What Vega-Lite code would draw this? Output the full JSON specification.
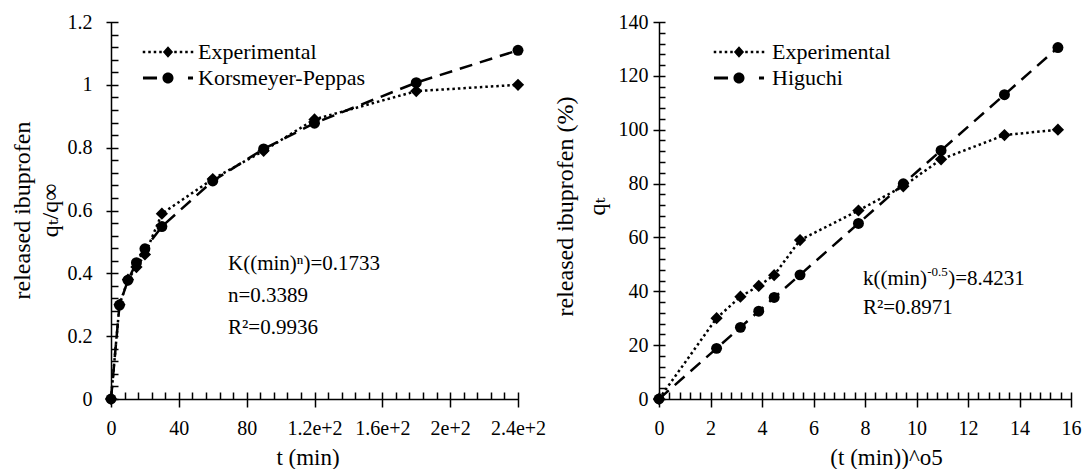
{
  "$schema": "https://vega.github.io/schema/vega-lite/v6.json",
  "background": "white",
  "autosize": {"type": "pad"},
  "padding": {"left": 10, "top": 12, "right": 5, "bottom": 0},
  "config": {
    "view": {"stroke": null, "fill": null},
    "font": "Liberation Serif",
    "axis": {"zindex": 1, "grid": false, "tickColor": "black", "domainColor": "black", "labelColor": "black", "titleColor": "black", "tickWidth": 1.5, "domainWidth": 1.5, "labelFont": "Liberation Serif", "titleFont": "Liberation Serif, DejaVu Serif", "labelFontSize": 20, "titleFontSize": 23, "titleFontWeight": "normal", "labelFlush": false, "labelOverlap": false}
  },
  "bounds": "flush",
  "spacing": 141,
  "resolve": {"scale": {"shape": "independent"}, "legend": {"shape": "independent"}},
  "hconcat": [
    {
      "width": 407,
      "height": 377,
      "resolve": {"axis": {"x": "independent", "y": "independent"}},
      "layer": [
        {
          "data": {"values": [
            {"series": "Experimental", "t": 0, "q": 0},
            {"series": "Experimental", "t": 5, "q": 0.30},
            {"series": "Experimental", "t": 10, "q": 0.38},
            {"series": "Experimental", "t": 15, "q": 0.42},
            {"series": "Experimental", "t": 20, "q": 0.46},
            {"series": "Experimental", "t": 30, "q": 0.59},
            {"series": "Experimental", "t": 60, "q": 0.70},
            {"series": "Experimental", "t": 90, "q": 0.79},
            {"series": "Experimental", "t": 120, "q": 0.89},
            {"series": "Experimental", "t": 180, "q": 0.98},
            {"series": "Experimental", "t": 240, "q": 1.00},
            {"series": "Korsmeyer-Peppas", "t": 0, "q": 0},
            {"series": "Korsmeyer-Peppas", "t": 5, "q": 0.299},
            {"series": "Korsmeyer-Peppas", "t": 10, "q": 0.378},
            {"series": "Korsmeyer-Peppas", "t": 15, "q": 0.434},
            {"series": "Korsmeyer-Peppas", "t": 20, "q": 0.478},
            {"series": "Korsmeyer-Peppas", "t": 30, "q": 0.549},
            {"series": "Korsmeyer-Peppas", "t": 60, "q": 0.694},
            {"series": "Korsmeyer-Peppas", "t": 90, "q": 0.796},
            {"series": "Korsmeyer-Peppas", "t": 120, "q": 0.878},
            {"series": "Korsmeyer-Peppas", "t": 180, "q": 1.007},
            {"series": "Korsmeyer-Peppas", "t": 240, "q": 1.110}
          ]},
          "resolve": {"axis": {"x": "independent", "y": "independent"}},
          "layer": [
            {
              "mark": {"type": "line", "color": "black", "strokeWidth": 2.5},
              "encoding": {
                "x": {"field": "t", "type": "quantitative", "scale": {"domain": [0, 240], "nice": false},
                  "axis": {"orient": "bottom", "values": [0, 8, 16, 24, 32, 40, 48, 56, 64, 72, 80, 88, 96, 104, 112, 120, 128, 136, 144, 152, 160, 168, 176, 184, 192, 200, 208, 216, 224, 232, 240],
                    "tickSize": {"condition": {"test": "datum.value % 40 === 0", "value": 15}, "value": 7},
                    "labelExpr": "datum.value % 40 === 0 ? datum.label : ''",
                    "format": "~g", "offset": -7, "domain": false, "labelPadding": 11, "title": null}},
                "y": {"field": "q", "type": "quantitative", "scale": {"domain": [0, 1.2], "nice": false},
                  "axis": {"orient": "left", "values": [0, 0.04, 0.08, 0.12, 0.16, 0.2, 0.24, 0.28, 0.32, 0.36, 0.4, 0.44, 0.48, 0.52, 0.56, 0.6, 0.64, 0.68, 0.72, 0.76, 0.8, 0.84, 0.88, 0.92, 0.96, 1, 1.04, 1.08, 1.12, 1.16, 1.2],
                    "tickSize": {"condition": {"test": "abs(datum.value * 5 - round(datum.value * 5)) < 0.001", "value": 12}, "value": 7},
                    "labelExpr": "abs(datum.value * 5 - round(datum.value * 5)) < 0.001 ? datum.label : ''",
                    "format": "~g", "offset": -7, "domain": false, "labelPadding": 14, "title": null}},
                "detail": {"field": "series", "type": "nominal"},
                "strokeDash": {"condition": {"test": "datum.series === 'Experimental'", "value": [2.5, 3]}, "value": [13, 8]}
              }
            },
            {
              "mark": {"type": "point", "filled": true, "color": "black", "opacity": 1},
              "encoding": {
                "x": {"field": "t", "type": "quantitative",
                  "axis": {"orient": "bottom", "ticks": false, "labels": false, "domain": true, "title": null}},
                "y": {"field": "q", "type": "quantitative",
                  "axis": {"orient": "left", "ticks": false, "labels": false, "domain": true, "title": null}},
                "size": {"condition": {"test": "datum.series === 'Experimental'", "value": 150}, "value": 120},
                "shape": {"condition": {"test": "datum.series === 'Experimental'", "value": "diamond"}, "value": "circle"}
              }
            },
            {
              "transform": [{"filter": "datum.q < 0"}],
              "mark": {"type": "point", "filled": true, "color": "black", "strokeWidth": 0, "size": 144},
              "encoding": {
                "x": {"field": "t", "type": "quantitative", "axis": null},
                "y": {"field": "q", "type": "quantitative", "axis": null},
                "shape": {"field": "series", "type": "nominal",
                  "scale": {"domain": ["Experimental", "Korsmeyer-Peppas"], "range": [
                    "M-4.21,-0.21H-3.79V0.21H-4.21Z M-3.29,-0.21H-2.87V0.21H-3.29Z M-2.38,-0.21H-1.96V0.21H-2.38Z M-1.46,-0.21H-1.04V0.21H-1.46Z M1.04,-0.21H1.46V0.21H1.04Z M1.96,-0.21H2.38V0.21H1.96Z M2.87,-0.21H3.29V0.21H2.87Z M3.79,-0.21H4.21V0.21H3.79Z M0,-0.95L0.85,0L0,0.95L-0.85,0Z",
                    "M-4.17,-0.25H-1.83V0.25H-4.17Z M3.33,-0.25H4.17V0.25H3.33Z M0.92,0A0.92,0.92,0,1,1,-0.92,0A0.92,0.92,0,1,1,0.92,0Z"]},
                  "legend": {"orient": "none", "legendX": 46, "legendY": 19, "title": null, "padding": 0, "symbolSize": 144, "symbolStrokeWidth": 0, "symbolFillColor": "black", "symbolOpacity": 1, "rowPadding": 4, "labelOffset": 19, "labelFont": "Liberation Serif", "labelFontSize": 22, "labelColor": "black", "labelLimit": 400}}
              }
            }
          ]
        },
        {
          "data": {"values": [
            {"t": 69, "q": 0.43, "label": "K((min)ⁿ)=0.1733"},
            {"t": 69, "q": 0.328, "label": "n=0.3389"},
            {"t": 69, "q": 0.225, "label": "R²=0.9936"}
          ]},
          "mark": {"type": "text", "align": "left", "baseline": "middle", "font": "Liberation Serif, DejaVu Serif", "fontSize": 21, "color": "black"},
          "encoding": {
            "x": {"field": "t", "type": "quantitative",
              "axis": {"orient": "bottom", "ticks": false, "labels": false, "domain": false, "title": "t (min)", "titleX": 196.5, "titleY": 58, "titleBaseline": "middle", "titleAlign": "center"}},
            "y": {"field": "q", "type": "quantitative",
              "axis": {"orient": "left", "ticks": false, "labels": false, "domain": false, "title": ["released ibuprofen", "qₜ/q∞"], "titleFontSize": 24, "titleX": -89, "titleY": 188, "titleBaseline": "middle", "titleAlign": "center", "titleAngle": -90, "titleLineHeight": 28}},
            "text": {"field": "label"}
          }
        }
      ]
    },
    {
      "width": 412,
      "height": 377,
      "resolve": {"axis": {"x": "independent", "y": "independent"}},
      "layer": [
        {
          "data": {"values": [
            {"series": "Experimental", "s": 0, "q": 0},
            {"series": "Experimental", "s": 2.236, "q": 30},
            {"series": "Experimental", "s": 3.162, "q": 38},
            {"series": "Experimental", "s": 3.873, "q": 42},
            {"series": "Experimental", "s": 4.472, "q": 46},
            {"series": "Experimental", "s": 5.477, "q": 59},
            {"series": "Experimental", "s": 7.746, "q": 70},
            {"series": "Experimental", "s": 9.487, "q": 79},
            {"series": "Experimental", "s": 10.954, "q": 89},
            {"series": "Experimental", "s": 13.416, "q": 98},
            {"series": "Experimental", "s": 15.492, "q": 100},
            {"series": "Higuchi", "s": 0, "q": 0},
            {"series": "Higuchi", "s": 2.236, "q": 18.8},
            {"series": "Higuchi", "s": 3.162, "q": 26.6},
            {"series": "Higuchi", "s": 3.873, "q": 32.6},
            {"series": "Higuchi", "s": 4.472, "q": 37.7},
            {"series": "Higuchi", "s": 5.477, "q": 46.1},
            {"series": "Higuchi", "s": 7.746, "q": 65.2},
            {"series": "Higuchi", "s": 9.487, "q": 79.9},
            {"series": "Higuchi", "s": 10.954, "q": 92.3},
            {"series": "Higuchi", "s": 13.416, "q": 113.0},
            {"series": "Higuchi", "s": 15.492, "q": 130.5}
          ]},
          "resolve": {"axis": {"x": "independent", "y": "independent"}},
          "layer": [
            {
              "mark": {"type": "line", "color": "black", "strokeWidth": 2.5},
              "encoding": {
                "x": {"field": "s", "type": "quantitative", "scale": {"domain": [0, 16], "nice": false},
                  "axis": {"orient": "bottom", "values": [0, 0.4, 0.8, 1.2, 1.6, 2, 2.4, 2.8, 3.2, 3.6, 4, 4.4, 4.8, 5.2, 5.6, 6, 6.4, 6.8, 7.2, 7.6, 8, 8.4, 8.8, 9.2, 9.6, 10, 10.4, 10.8, 11.2, 11.6, 12, 12.4, 12.8, 13.2, 13.6, 14, 14.4, 14.8, 15.2, 15.6, 16],
                    "tickSize": {"condition": {"test": "datum.value % 2 === 0", "value": 15}, "value": 7},
                    "labelExpr": "datum.value % 2 === 0 ? datum.label : ''",
                    "format": "~g", "offset": -7, "domain": false, "labelPadding": 11, "title": null}},
                "y": {"field": "q", "type": "quantitative", "scale": {"domain": [0, 140], "nice": false},
                  "axis": {"orient": "left", "values": [0, 4, 8, 12, 16, 20, 24, 28, 32, 36, 40, 44, 48, 52, 56, 60, 64, 68, 72, 76, 80, 84, 88, 92, 96, 100, 104, 108, 112, 116, 120, 124, 128, 132, 136, 140],
                    "tickSize": {"condition": {"test": "datum.value % 20 === 0", "value": 12}, "value": 6},
                    "labelExpr": "datum.value % 20 === 0 ? datum.label : ''",
                    "format": "~g", "offset": -6, "domain": false, "labelPadding": 5, "title": null}},
                "detail": {"field": "series", "type": "nominal"},
                "strokeDash": {"condition": {"test": "datum.series === 'Experimental'", "value": [2.5, 3]}, "value": [13, 8]}
              }
            },
            {
              "mark": {"type": "point", "filled": true, "color": "black", "opacity": 1},
              "encoding": {
                "x": {"field": "s", "type": "quantitative",
                  "axis": {"orient": "bottom", "ticks": false, "labels": false, "domain": true, "title": null}},
                "y": {"field": "q", "type": "quantitative",
                  "axis": {"orient": "left", "ticks": false, "labels": false, "domain": true, "title": null}},
                "size": {"condition": {"test": "datum.series === 'Experimental'", "value": 150}, "value": 120},
                "shape": {"condition": {"test": "datum.series === 'Experimental'", "value": "diamond"}, "value": "circle"}
              }
            },
            {
              "transform": [{"filter": "datum.q < 0"}],
              "mark": {"type": "point", "filled": true, "color": "black", "strokeWidth": 0, "size": 144},
              "encoding": {
                "x": {"field": "s", "type": "quantitative", "axis": null},
                "y": {"field": "q", "type": "quantitative", "axis": null},
                "shape": {"field": "series", "type": "nominal",
                  "scale": {"domain": ["Experimental", "Higuchi"], "range": [
                    "M-4.21,-0.21H-3.79V0.21H-4.21Z M-3.29,-0.21H-2.87V0.21H-3.29Z M-2.38,-0.21H-1.96V0.21H-2.38Z M-1.46,-0.21H-1.04V0.21H-1.46Z M1.04,-0.21H1.46V0.21H1.04Z M1.96,-0.21H2.38V0.21H1.96Z M2.87,-0.21H3.29V0.21H2.87Z M3.79,-0.21H4.21V0.21H3.79Z M0,-0.95L0.85,0L0,0.95L-0.85,0Z",
                    "M-4.17,-0.25H-1.83V0.25H-4.17Z M3.33,-0.25H4.17V0.25H3.33Z M0.92,0A0.92,0.92,0,1,1,-0.92,0A0.92,0.92,0,1,1,0.92,0Z"]},
                  "legend": {"orient": "none", "legendX": 69, "legendY": 19, "title": null, "padding": 0, "symbolSize": 144, "symbolStrokeWidth": 0, "symbolFillColor": "black", "symbolOpacity": 1, "rowPadding": 4, "labelOffset": 22, "labelFont": "Liberation Serif", "labelFontSize": 22, "labelColor": "black", "labelLimit": 400}}
              }
            }
          ]
        },
        {
          "data": {"values": [
            {"s": 7.92, "q": 44.6, "label": "k((min)"},
            {"s": 11.232, "q": 44.6, "label": ")=8.4231"},
            {"s": 7.92, "q": 33.8, "label": "R²=0.8971"}
          ]},
          "mark": {"type": "text", "align": "left", "baseline": "middle", "font": "Liberation Serif, DejaVu Serif", "fontSize": 21, "color": "black"},
          "encoding": {
            "x": {"field": "s", "type": "quantitative",
              "axis": {"orient": "bottom", "ticks": false, "labels": false, "domain": false, "title": "(t (min))^o5", "titleX": 227, "titleY": 58, "titleBaseline": "middle", "titleAlign": "center"}},
            "y": {"field": "q", "type": "quantitative",
              "axis": {"orient": "left", "ticks": false, "labels": false, "domain": false, "title": ["released ibuprofen (%)", "qₜ"], "titleFontSize": 24, "titleX": -94, "titleY": 184, "titleBaseline": "middle", "titleAlign": "center", "titleAngle": -90, "titleLineHeight": 32}},
            "text": {"field": "label"}
          }
        },
        {
          "data": {"values": [
            {"s": 10.413, "q": 44.6, "label": "-0.5"}
          ]},
          "mark": {"type": "text", "align": "left", "baseline": "middle", "font": "Liberation Serif", "fontSize": 13, "dy": -7, "color": "black"},
          "encoding": {
            "x": {"field": "s", "type": "quantitative", "axis": null},
            "y": {"field": "q", "type": "quantitative", "axis": null},
            "text": {"field": "label"}
          }
        }
      ]
    }
  ]
}
